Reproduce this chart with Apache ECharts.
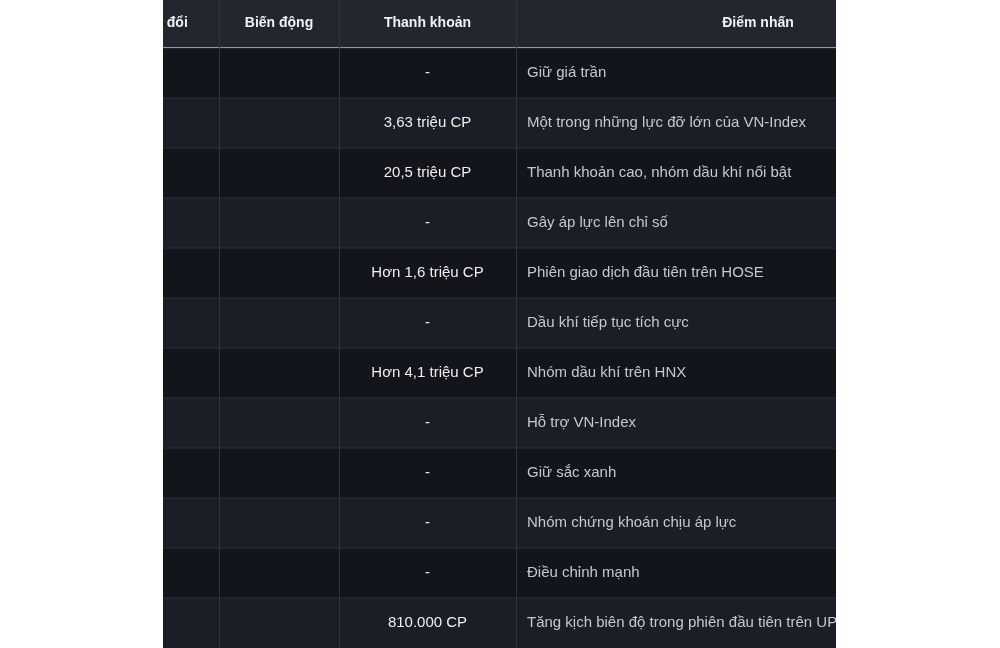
<!DOCTYPE html>
<html><head><meta charset="utf-8">
<script src="https://cdn.jsdelivr.net/npm/echarts@6/dist/echarts.min.js"></script>
<style>html,body{margin:0;background:#fff}#c{width:1000px;height:648px}</style>
</head><body><div id="c"></div>
<script>
// table data
var headers = ['Thay đổi', 'Biến động', 'Thanh khoản', 'Điểm nhấn'];
var changes = ['+1.450', '+1.400', '+1.200', '-1.150', '+1.800', '+1.600', '+0,3 ▲', '+0,2 ▲', '+0,4 ▲', '-0,3 ▼', '-0,9 ▼', '+1.100'];
var pct = ['+6,90%', '+5,56%', '+4,62%', '-2,99%', '+6,00%', '+3,85%', '+3,48%', '+1,01%', '+1,47%', '-1,52%', '-3,29%', '+39,84%'];
var liquidity = ['-', '3,63 triệu CP', '20,5 triệu CP', '-', 'Hơn 1,6 triệu CP', '-', 'Hơn 4,1 triệu CP', '-', '-', '-', '-', '810.000 CP'];
var notes = ['Giữ giá trần', 'Một trong những lực đỡ lớn của VN-Index', 'Thanh khoản cao, nhóm dầu khí nổi bật',
  'Gây áp lực lên chỉ số', 'Phiên giao dịch đầu tiên trên HOSE', 'Dầu khí tiếp tục tích cực', 'Nhóm dầu khí trên HNX',
  'Hỗ trợ VN-Index', 'Giữ sắc xanh', 'Nhóm chứng khoán chịu áp lực', 'Điều chỉnh mạnh', 'Tăng kịch biên độ trong phiên đầu tiên trên UPCoM'];
var status = ['ceil', 'up', 'up', 'down', 'up', 'up', 'up', 'up', 'up', 'down', 'down', 'ceil'];

var colX = [99, 219, 339, 516, 1000];
var headH = 47, rowH = 50;
var col = {ceil: '#c35fd9', up: '#34c47c', down: '#ef5b5f'};
var font = 'Liberation Sans, Arial, sans-serif';

var els = [];
els.push({type: 'rect', shape: {x: 0, y: 0, width: 1000, height: headH}, style: {fill: '#22262f'}});
headers.forEach(function(h, i){
  els.push({type: 'text', x: (colX[i] + colX[i+1]) / 2, y: headH / 2,
    style: {text: h, fill: '#f2f2f2', font: 'bold 14px ' + font, align: 'center', verticalAlign: 'middle'}});
});
for (var r = 0; r < pct.length; r++) {
  var y0 = headH + 1 + r * rowH, cy = y0 + rowH / 2;
  els.push({type: 'rect', shape: {x: 0, y: y0, width: 1000, height: rowH}, style: {fill: r % 2 ? '#1a1e26' : '#12151b'}});
  els.push({type: 'line', shape: {x1: 0, y1: y0, x2: 1000, y2: y0}, style: {stroke: '#2b3039', lineWidth: 1}});
  var c = col[status[r]];
  els.push({type: 'text', x: 159, y: cy, style: {text: changes[r], fill: c, font: '15px ' + font, align: 'center', verticalAlign: 'middle'}});
  els.push({type: 'text', x: 279, y: cy, style: {text: pct[r], fill: c, font: '15px ' + font, align: 'center', verticalAlign: 'middle'}});
  els.push({type: 'text', x: 427.5, y: cy, style: {text: liquidity[r], fill: '#eeeeee', font: '15px ' + font, align: 'center', verticalAlign: 'middle'}});
  els.push({type: 'text', x: 527, y: cy, style: {text: notes[r], fill: '#c4c8cf', font: '15px ' + font, align: 'left', verticalAlign: 'middle'}});
}
colX.slice(1, 4).forEach(function(x){
  els.push({type: 'line', shape: {x1: x + 0.5, y1: 0, x2: x + 0.5, y2: 648}, style: {stroke: '#2e333d', lineWidth: 1}});
});
// crop like the reference
els.push({type: 'rect', shape: {x: 0, y: 0, width: 163, height: 648}, style: {fill: '#ffffff'}, z: 10});
els.push({type: 'rect', shape: {x: 836, y: 0, width: 164, height: 648}, style: {fill: '#ffffff'}, z: 10});

var chart = echarts.init(document.getElementById('c'));
chart.setOption({animation: false, graphic: {elements: els}});
</script></body></html>
